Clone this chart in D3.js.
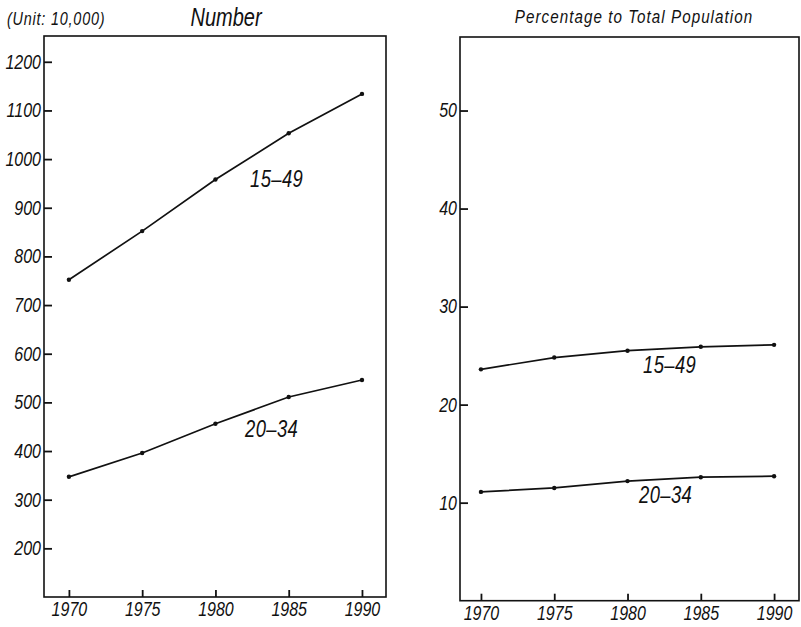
<!DOCTYPE html>
<html>
<head>
<meta charset="utf-8">
<script src="https://cdn.jsdelivr.net/npm/d3@7"></script>
<style>
  body { margin: 0; background: #fff; }
  svg text { font-family: "Liberation Sans", Arial, sans-serif; font-style: italic; fill: #111; }
</style>
</head>
<body>
<div id="chart"></div>
<script>
// data
let years = [1970, 1975, 1980, 1985, 1990]
let num1549 = [752, 852, 958, 1053, 1134]
let num2034 = [347, 396, 456, 511, 546]
let pct1549 = [23.6, 24.8, 25.5, 25.9, 26.1]
let pct2034 = [11.1, 11.5, 12.2, 12.6, 12.7]
let numTicks = [200, 300, 400, 500, 600, 700, 800, 900, 1000, 1100, 1200]
let pctTicks = [10, 20, 30, 40, 50]
let seriesNames = ["15\u201349", "20\u201334"]

let svgWidth = 801
let svgHeight = 627
let narrow = 0.8   // squeeze text horizontally like a condensed face

let svg = d3.select("#chart")
  .append("svg")
  .attr("width", svgWidth)
  .attr("height", svgHeight)

// turn x/y of a text into a transform so it can be squeezed
function condense(sel) {
  sel.each(function() {
    let t = d3.select(this)
    let x = +t.attr("x") || 0
    let y = +t.attr("y") || 0
    t.attr("x", 0).attr("y", 0)
      .attr("transform", `translate(${x},${y}) scale(${narrow},1)`)
  })
}

//Panels
let panels = [
  {x0: 44, x1: 386, y0: 36, y1: 597, xDom: [1968.3, 1991.64], yDom: [100, 1253],
   yTicks: numTicks, series: [num1549, num2034],
   labels: [[250, 187], [245, 437]]},
  {x0: 460, x1: 799, y0: 37, y1: 600.7, xDom: [1968.57, 1991.7], yDom: [0, 57.5],
   yTicks: pctTicks, series: [pct1549, pct2034],
   labels: [[643, 373], [639, 503]]}
]

panels.forEach(function(p) {
  let x = d3.scaleLinear().domain(p.xDom).range([p.x0, p.x1])
  let y = d3.scaleLinear().domain(p.yDom).range([p.y1, p.y0])

  //frame
  svg.append("rect")
    .attr("x", p.x0).attr("y", p.y0)
    .attr("width", p.x1 - p.x0).attr("height", p.y1 - p.y0)
    .attr("fill", "none").attr("stroke", "#111").attr("stroke-width", 1.6)

  //axes, ticks pointing inward
  let gx = svg.append("g")
    .attr("transform", `translate(0,${p.y1})`)
    .call(d3.axisBottom(x).tickValues(years).tickFormat(d3.format("d")).tickSizeInner(-7).tickSizeOuter(0).tickPadding(5))
  let gy = svg.append("g")
    .attr("transform", `translate(${p.x0},0)`)
    .call(d3.axisLeft(y).tickValues(p.yTicks).tickFormat(d3.format("d")).tickSizeInner(-8).tickSizeOuter(0).tickPadding(3))
  ;[gx, gy].forEach(function(g) {
    g.select(".domain").remove()
    g.selectAll("line").attr("stroke", "#111").attr("stroke-width", 1.8)
    g.selectAll("text").attr("font-family", null).style("font-size", "20px").attr("fill", "#111")
    condense(g.selectAll("text"))
  })

  //lines
  let line = d3.line()
    .x((d, i) => x(years[i]))
    .y(d => y(d))
  p.series.forEach(function(s, k) {
    svg.append("path")
      .datum(s)
      .attr("d", line)
      .attr("fill", "none")
      .attr("stroke", "#111")
      .attr("stroke-width", 1.7)
    svg.selectAll(null)
      .data(s)
      .enter()
      .append("circle")
      .attr("cx", (d, i) => x(years[i]))
      .attr("cy", d => y(d))
      .attr("r", 2.2)
      .attr("fill", "#111")
    svg.append("text")
      .attr("x", p.labels[k][0])
      .attr("y", p.labels[k][1])
      .style("font-size", "23px")
      .style("letter-spacing", "0.5px")
      .text(seriesNames[k])
      .call(condense)
  })
})

//Titles
svg.append("text")
  .attr("x", 7).attr("y", 25)
  .style("font-size", "18px")
  .style("letter-spacing", "1px")
  .text("(Unit: 10,000)")
  .call(condense)
svg.append("text")
  .attr("x", 226).attr("y", 26)
  .attr("text-anchor", "middle")
  .style("font-size", "25px")
  .text("Number")
  .call(condense)
svg.append("text")
  .attr("x", 634).attr("y", 23)
  .attr("text-anchor", "middle")
  .style("font-size", "19px")
  .style("letter-spacing", "1.3px")
  .text("Percentage to Total Population")
  .call(condense)
</script>
</body>
</html>
